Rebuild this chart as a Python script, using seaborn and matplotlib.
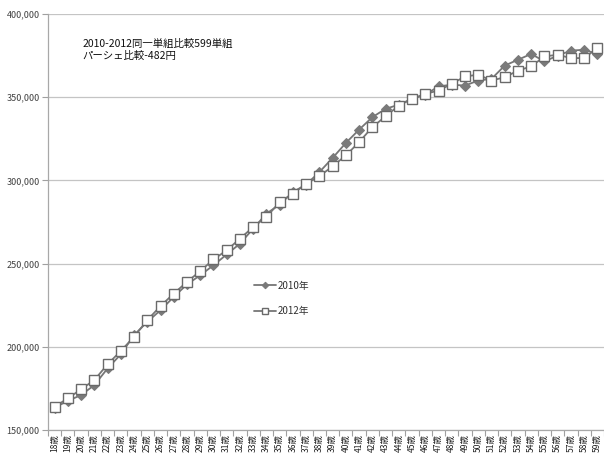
import numpy as np
import pandas as pd
import matplotlib
matplotlib.use("Agg")
import matplotlib.pyplot as plt
import seaborn as sns

# Age groups on the category axis
ages = list(range(18, 60))
age_labels = [f"{a}歳" for a in ages]

# Average monthly wage by age (yen)
wage_2010 = [163500, 167500, 171000, 177000, 187000, 195500, 207000, 215000,
             222000, 230000, 237500, 243000, 249000, 255500, 262000, 271000,
             280000, 285500, 293000, 297500, 305000, 313500, 322500, 330500,
             338000, 343000, 345500, 349000, 351500, 356500, 357500, 357000,
             360000, 361000, 369000, 372500, 376000, 371500, 375000, 378000,
             378500, 376000]
wage_2012 = [164000, 169000, 174500, 180000, 189500, 197500, 206000, 216000,
             224500, 232000, 239000, 245500, 252500, 258000, 265000, 272000,
             278000, 287000, 292000, 298000, 302500, 308500, 315000, 323000,
             332000, 338500, 345000, 349000, 352000, 354000, 358000, 362500,
             363500, 360000, 362000, 366000, 368500, 374500, 375500, 373500,
             373500, 379500]

series_names = ["2010年", "2012年"]
note_lines = ["2010-2012同一単組比較599単組", "パーシェ比較-482円"]
y_ticks = [150000, 200000, 250000, 300000, 350000, 400000]

sns.set_theme(style="white")
plt.rcParams["font.family"] = ["Noto Sans CJK JP", "DejaVu Sans"]

df = pd.DataFrame({
    "pos": list(range(len(ages))) * 2,
    "wage": wage_2010 + wage_2012,
    "year": [series_names[0]] * len(ages) + [series_names[1]] * len(ages),
})

fig = plt.figure(figsize=(6.04, 4.53), dpi=100)
ax = fig.add_axes([0.0795, 0.0508, 0.9205, 0.9183])

line_col = "#767676"
sns.lineplot(data=df[df.year == series_names[0]], x="pos", y="wage", ax=ax,
             color=line_col, linewidth=1.3, marker="D", markersize=5.5,
             markerfacecolor="#7a7a7a", markeredgecolor="#7a7a7a",
             label=series_names[0], zorder=3)
sns.lineplot(data=df[df.year == series_names[1]], x="pos", y="wage", ax=ax,
             color=line_col, linewidth=1.3, marker="s", markersize=7.5,
             markerfacecolor="white", markeredgecolor="#6a6a6a",
             markeredgewidth=1.0, label=series_names[1], zorder=4)

ax.set_xlim(-0.5, len(ages) - 0.5)
ax.set_ylim(150000, 400000)
ax.set_yticks(y_ticks)
ax.set_yticklabels([f"{v:,}" for v in y_ticks], fontsize=6.5, color="#404040")
ax.set_xticks(range(len(ages)))
ax.set_xticklabels(age_labels, rotation=90, fontsize=6.1, color="#202020")
ax.set_xticks(np.arange(-0.5, len(ages), 1), minor=True)
ax.tick_params(axis="x", which="major", length=0, pad=3)
ax.tick_params(axis="x", which="minor", length=4, color="#a0a0a0", width=0.8,
               direction="out", bottom=True)
ax.tick_params(axis="y", which="major", length=4, color="#a0a0a0", width=0.8,
               direction="out", left=True, pad=2)
ax.set_xlabel("")
ax.set_ylabel("")

ax.grid(axis="y", color="#c4c4c4", linewidth=0.9)
ax.grid(axis="x", visible=False)
for side in ("top", "right"):
    ax.spines[side].set_visible(False)
for side in ("left", "bottom"):
    ax.spines[side].set_color("#a8a8a8")
    ax.spines[side].set_linewidth(0.9)

ax.text(0.062, 0.94, "\n".join(note_lines), transform=ax.transAxes,
        fontsize=7.5, va="top", ha="left", color="#101010", linespacing=1.25)

handles, labels = ax.get_legend_handles_labels()
leg = ax.legend(handles, labels, loc="upper left",
                bbox_to_anchor=(0.355, 0.38), frameon=False, fontsize=7,
                handlelength=2.2, handletextpad=0.2, labelspacing=1.6,
                markerscale=0.6)
for t in leg.get_texts():
    t.set_color("#303030")

fig.savefig("out.png", dpi=100)
